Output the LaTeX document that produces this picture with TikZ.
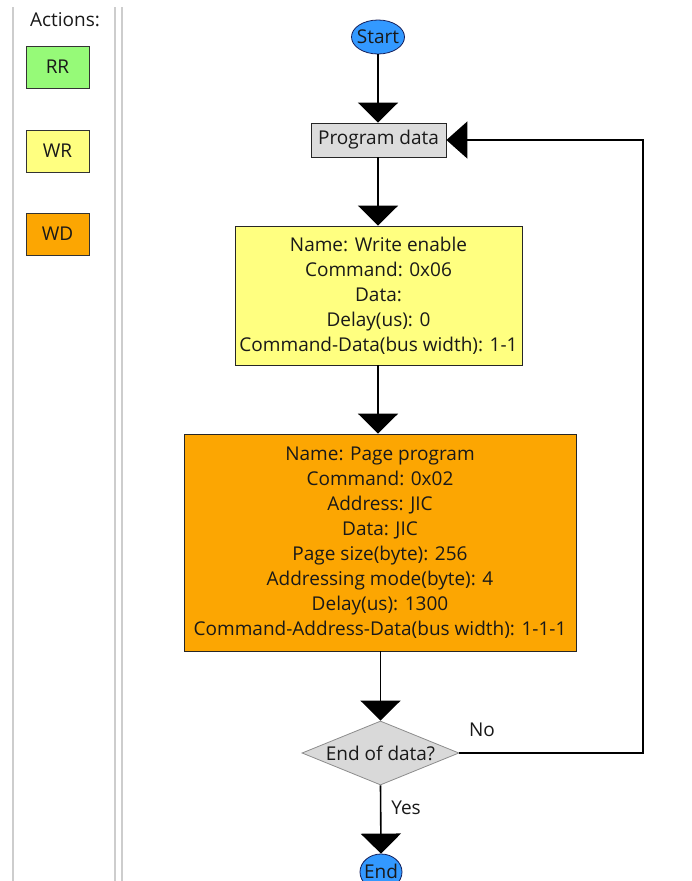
\documentclass[tikz,border=0pt]{standalone}
\usepackage{fontspec}
\setmainfont{Open Sans}
\usetikzlibrary{shapes.geometric,arrows.meta}
\definecolor{rrgreen}{RGB}{150,250,120}
\definecolor{wryellow}{RGB}{255,255,128}
\definecolor{wdorange}{RGB}{252,166,2}
\definecolor{termblue}{RGB}{51,153,255}
\definecolor{termborder}{RGB}{20,30,90}
\definecolor{pdgray}{RGB}{220,220,220}
\definecolor{decgray}{RGB}{217,217,217}
\definecolor{panelline}{RGB}{205,205,205}
\definecolor{txt}{RGB}{25,25,25}
\begin{document}
\begin{tikzpicture}[x=1pt,y=-1pt,
  every node/.style={text=txt,font=\fontsize{19}{25}\selectfont},
  legendbox/.style={draw=black!80,line width=0.8pt,minimum width=63pt,minimum height=42pt,inner sep=0pt},
  terminal/.style={ellipse,draw=termborder,line width=0.8pt,fill=termblue,inner sep=0pt},
  actbox/.style={draw=black!85,line width=0.8pt,align=center,inner sep=0pt},
  decision/.style={diamond,draw=black!45,line width=0.8pt,fill=decgray,inner sep=0pt,minimum width=157pt,minimum height=64pt,aspect=2.45},
  flow/.style={line width=1.6pt,-{Triangle[width=40pt,length=20pt]}},
  flowback/.style={line width=1.6pt,-{Triangle[width=37pt,length=21pt]}},
  lbl/.style={font=\fontsize{19}{22}\selectfont,inner sep=0pt}
]
\useasboundingbox (0,0) rectangle (692,881);
\fill[white] (0,0) rectangle (692,881);
\begin{scope}
\clip (0,0) rectangle (692,881);
% left panel
\draw[panelline,line width=1.5pt] (13,7) -- (13,881);
\draw[panelline,line width=1.5pt] (115,7) -- (115,881);
\draw[panelline,line width=1.5pt] (122,7) -- (122,881);
\node[lbl] (actions) at (65,20) {Actions:};
\node[legendbox,fill=rrgreen] (rr) at (57.5,67) {RR};
\node[legendbox,fill=wryellow] (wr) at (57.5,151) {WR};
\node[legendbox,fill=wdorange] (wd) at (57.5,234) {WD};
% flow
\node[terminal,minimum width=53pt,minimum height=34pt] (start) at (378,37) {};
\node[lbl] (starttext) at (start.center) {Start};
\node[actbox,fill=pdgray,minimum width=135pt,minimum height=34pt] (pd) at (378.5,140) {Program data};
\node[actbox,fill=wryellow,minimum width=287pt,minimum height=139pt] (we) at (378.5,295.5)
  {Name: Write enable\\Command: 0x06\\Data:\\Delay(us): 0\\Command-Data(bus width): 1-1};
\node[actbox,fill=wdorange,minimum width=392pt,minimum height=217pt] (pp) at (380,542.5)
  {Name: Page program\\Command: 0x02\\Address: JIC\\Data: JIC\\Page size(byte): 256\\Addressing mode(byte): 4\\Delay(us): 1300\\Command-Address-Data(bus width): 1-1-1};
\node[decision] (dec) at (380.5,753) {};
\node[lbl] (dectext) at (dec.center) {End of data?};
\node[terminal,minimum width=42pt,minimum height=36pt] (end) at (381,872) {};
\node[lbl] (endtext) at (381,871) {End};
\coordinate (nr) at (643,0);
\draw[flow] (start.south) -- (pd.north -| start.south);
\draw[flow] (pd.south -| start.south) -- (we.north -| start.south);
\draw[flow] (we.south -| start.south) -- (pp.north -| start.south);
\draw[flow] (pp.south -| dec.north) -- (dec.north);
\draw[flow] (dec.south) -- (end.north);
\draw[flowback] (dec.east) -| (nr |- pd.east) -- (pd.east);
\node[lbl] (no) at (482,730) {No};
\node[lbl] (yes) at (406,808) {Yes};
\end{scope}
\end{tikzpicture}
\end{document}
